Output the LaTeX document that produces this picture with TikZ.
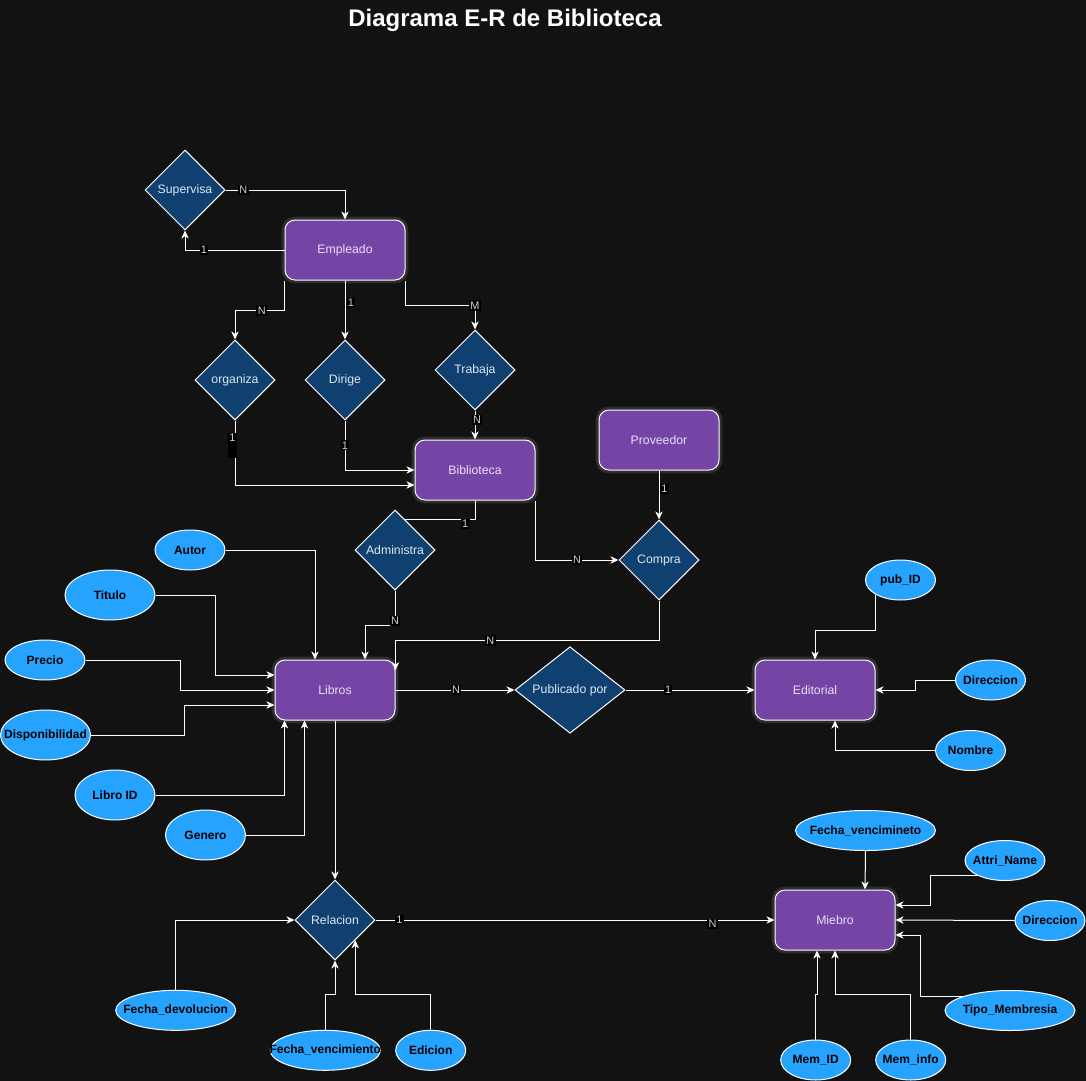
\documentclass[tikz,border=0pt]{standalone}
\usepackage{fontspec}
\setmainfont{Liberation Sans}
\usetikzlibrary{shapes.geometric,arrows.meta,calc}
\definecolor{bgc}{HTML}{121212}
\definecolor{entc}{HTML}{7545A6}
\definecolor{relc}{HTML}{10406F}
\definecolor{attc}{HTML}{26A3FF}
\definecolor{enttext}{HTML}{EADCF7}
\definecolor{reltext}{HTML}{DCE6F0}
\definecolor{lbltext}{HTML}{D0D0D0}
\begin{document}
\begin{tikzpicture}[x=0.75pt,y=-0.75pt,
  entity/.style={rectangle, rounded corners=7.5pt, draw=white, line width=0.75pt, fill=entc,
    minimum width=90pt, minimum height=45pt, inner sep=0pt, text=enttext,
    font=\fontsize{9.2}{11}\selectfont,
    preaction={draw=white, draw opacity=0.12, line width=5pt}},
  relship/.style={diamond, draw=white, line width=0.75pt, fill=relc, minimum width=60pt,
    minimum height=60pt, inner sep=0pt, text=reltext, font=\fontsize{9.2}{11}\selectfont},
  attr/.style={ellipse, draw=white, line width=0.75pt, fill=attc, inner sep=0pt},
  atext/.style={font=\bfseries\fontsize{9}{11}\selectfont, text=black, inner sep=0pt},
  conn/.style={draw=white, line width=0.75pt, -{Stealth[length=6pt,width=5.5pt,inset=1.8pt]}},
  plain/.style={draw=white, line width=0.75pt},
  lbl/.style={fill=black, text=lbltext, font=\fontsize{8.2}{9}\selectfont, inner sep=1pt}
]
\useasboundingbox (0,0) rectangle (1086,1081);
\fill[bgc] (0,0) rectangle (1086,1081);

\node[font=\bfseries\fontsize{18}{22}\selectfont, text=white] (title) at (505,20) {Diagrama E-R de Biblioteca};

% entities
\node[entity] (emp) at (345,250) {Empleado};
\node[entity] (bib) at (475,470) {Biblioteca};
\node[entity] (prov) at (659,440) {Proveedor};
\node[entity] (lib) at (335,690) {Libros};
\node[entity] (edi) at (815,690) {Editorial};
\node[entity] (mie) at (835,920) {Miebro};

% relationships
\node[relship] (sup) at (185,190) {Supervisa};
\node[relship] (org) at (235,380) {organiza};
\node[relship] (dir) at (345,380) {Dirige};
\node[relship] (trab) at (475,370) {Trabaja};
\node[relship] (adm) at (395,550) {Administra};
\node[relship] (comp) at (659,560) {Compra};
\node[relship, minimum width=82.5pt] (pub) at (570,690) {Publicado por};
\node[relship] (rlc) at (335,920) {Relacion};

% attributes
\node[attr, minimum width=52.5pt, minimum height=30pt, label={[atext]center:Autor}] (autor) at (190,550) {};
\node[attr, minimum width=67.5pt, minimum height=37.5pt, label={[atext]center:Titulo}] (tit) at (110,595) {};
\node[attr, minimum width=60pt, minimum height=30pt, label={[atext]center:Precio}] (pre) at (45,660) {};
\node[attr, minimum width=67.5pt, minimum height=37.5pt, label={[atext]center:Disponibilidad}] (disp) at (45.5,735) {};
\node[attr, minimum width=60pt, minimum height=37.5pt, label={[atext]center:Libro ID}] (lid) at (115,795) {};
\node[attr, minimum width=60pt, minimum height=37.5pt, label={[atext]center:Genero}] (gen) at (205.5,835) {};
\node[attr, minimum width=52.5pt, minimum height=30pt, label={[atext]center:pub\_ID}] (pid) at (900.5,580) {};
\node[attr, minimum width=52.5pt, minimum height=30pt, label={[atext]center:Direccion}] (dire) at (990.5,680) {};
\node[attr, minimum width=52.5pt, minimum height=30pt, label={[atext]center:Nombre}] (nom) at (970.5,750.5) {};
\node[attr, minimum width=105pt, minimum height=30pt, label={[atext]center:Fecha\_vencimineto}] (fvm) at (865.5,830.5) {};
\node[attr, minimum width=60pt, minimum height=30pt, label={[atext]center:Attri\_Name}] (attn) at (1005,860.5) {};
\node[attr, minimum width=52.5pt, minimum height=30pt, label={[atext]center:Direccion}] (dirm) at (1050,920.5) {};
\node[attr, minimum width=97.5pt, minimum height=30pt, label={[atext]center:Tipo\_Membresia}] (tipo) at (1010,1010.5) {};
\node[attr, minimum width=52.5pt, minimum height=30pt, label={[atext]center:Mem\_ID}] (mid) at (815.7,1060) {};
\node[attr, minimum width=52.5pt, minimum height=30pt, label={[atext]center:Mem\_info}] (minf) at (910.7,1060) {};
\node[attr, minimum width=90pt, minimum height=30pt, label={[atext]center:Fecha\_devolucion}] (fdev) at (175.7,1010.3) {};
\node[attr, minimum width=82.5pt, minimum height=30pt, label={[atext]center:Fecha\_vencimiento}] (fven) at (325.3,1050.3) {};
\node[attr, minimum width=52.5pt, minimum height=30pt, label={[atext]center:Edicion}] (edic) at (430.7,1050.3) {};

% connectors: Empleado
\draw[conn] (sup.east) -| node[lbl, pos=0.075] {N} (emp.north);
\draw[conn] (emp.west) -| node[lbl, pos=0.405] {1} (sup.south);
\draw[conn] (emp.south west) -- ++(0,30) -| node[lbl, pos=0.23] {N} (org.north);
\draw[conn] (emp.south) -- node[lbl, pos=0.38, xshift=4.5pt] {1} (dir.north);
\draw[conn] (emp.south east) -- ++(0,25) -| node[lbl, pos=0.5] {M} (trab.north);
\draw[conn] (trab.south) -- node[lbl, pos=0.33, xshift=1.5pt] {N} (bib.north);
\draw[conn] (org.south) |- node[lbl, pos=0.092, anchor=north, text depth=11pt, xshift=-2pt] {1} ([yshift=-11.25pt]bib.west);
\draw[conn] (dir.south) |- node[lbl, pos=0.25] {1} (bib.west);

% Biblioteca / Compra / Administra
\draw[plain] (bib.south) |- node[lbl, pos=0.57, yshift=-3pt] {1} (adm.71.57);
\draw[conn] (bib.south east) |- node[lbl, pos=0.75] {N} (comp.west);
\draw[conn] (prov.south) -- node[lbl, pos=0.38, xshift=4pt] {1} (comp.north);
\draw[conn] (adm.south) -- node[lbl, pos=0.86] {N} ++(0,35) -| ([xshift=22.5pt]lib.north);
\draw[conn] (comp.south) -- ++(0,40) -| node[lbl, pos=0.32] {N} ([yshift=-8pt]lib.north east);

% Libros attributes
\draw[conn] (autor.east) -| ([xshift=-15pt]lib.north);
\draw[conn] (tit.east) -- ++(60,0) |- ([yshift=11.25pt]lib.west);
\draw[conn] (pre.east) -- ++(95,0) |- (lib.west);
\draw[conn] (disp.east) -- ++(93,0) |- ([yshift=-11.25pt]lib.west);
\draw[conn] (lid.east) -| ([xshift=7.5pt]lib.south west);
\draw[conn] (gen.east) -| ([xshift=22.5pt]lib.south west);

% Publicado por
\draw[conn] (lib.east) -- node[lbl, pos=0.51] {N} (pub.west);
\draw[conn] (pub.east) -- node[lbl, pos=0.33] {1} (edi.west);

% Editorial attributes
\draw[conn] (pid.211) -- ++(0,36) -| (edi.north);
\draw[conn] (dire.west) -- ++(-40,0) |- (edi.east);
\draw[conn] (nom.west) -| ([xshift=15pt]edi.south);

% Relacion
\draw[conn] (lib.south) -- (rlc.north);
\draw[conn] (rlc.east) -- node[lbl, pos=0.06] {1} node[lbl, pos=0.845, yshift=-3pt] {N} (mie.west);
\draw[conn] (fdev.north) |- (rlc.west);
\draw[conn] (fven.north) -- ++(0,-35) -| (rlc.south);
\draw[conn] (edic.north) -- ++(0,-35) -| (rlc.south east);

% Miebro attributes
\draw[conn] (fvm.south) -- ([xshift=22.5pt]mie.north);
\draw[conn] (attn.210) -- ++(-48,0) |- ([yshift=11.25pt]mie.east);
\draw[conn] (dirm.west) -- (mie.east);
\draw[conn] (tipo.163) -- ++(-43,0) |- ([yshift=-11.25pt]mie.east);
\draw[conn] (mid.north) -- ++(0,-45) -| ([xshift=-13.5pt]mie.south);
\draw[conn] (minf.north) -- ++(0,-45) -| (mie.south);
\end{tikzpicture}
\end{document}
